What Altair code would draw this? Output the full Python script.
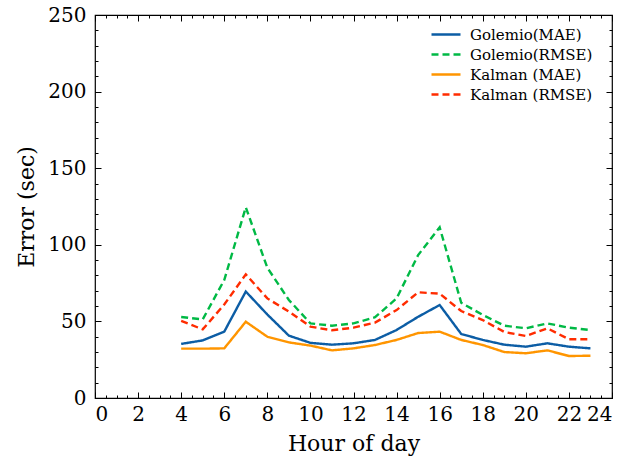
import altair as alt
import pandas as pd

hours = list(range(4, 24))
golemio_mae = [35.3, 37.6, 43.3, 69.5, 54.5, 40.7, 36.0, 34.8, 35.7, 37.9, 44.4, 53.0, 60.7, 41.8, 37.9, 34.8, 33.5, 35.7, 33.5, 32.4]
golemio_rmse = [52.9, 51.3, 77.0, 124.5, 85.0, 64.0, 48.7, 47.2, 48.7, 52.7, 65.0, 93.3, 111.4, 62.2, 54.2, 47.2, 45.5, 48.7, 45.9, 44.4]
kalman_mae = [32.2, 32.2, 32.4, 49.8, 40.0, 36.3, 34.2, 31.1, 32.4, 34.6, 37.9, 42.4, 43.3, 37.9, 34.6, 30.0, 29.2, 31.1, 27.4, 27.6]
kalman_rmse = [50.3, 44.8, 61.0, 80.7, 65.0, 56.4, 46.6, 44.2, 45.9, 49.2, 57.4, 69.0, 68.1, 56.8, 50.9, 43.1, 40.5, 45.5, 38.3, 38.3]

series_names = ["Golemio(MAE)", "Golemio(RMSE)", "Kalman (MAE)", "Kalman (RMSE)"]
series_colors = ["#0C5DA5", "#00B945", "#FF9500", "#FF2C00"]
series_dashes = [[1, 0], [7, 4], [1, 0], [7, 4]]

x_major = list(range(0, 25, 2))
x_minor = [i * 0.5 for i in range(0, 49)]
y_major = list(range(0, 251, 50))
y_minor = list(range(0, 251, 10))

rows = []
for name, vals in zip(series_names, [golemio_mae, golemio_rmse, kalman_mae, kalman_rmse]):
    for h, v in zip(hours, vals):
        rows.append({"hour": h, "value": v, "series": name})
df = pd.DataFrame(rows)

W, H = 517, 383
FONT = "DejaVu Serif"
xs = alt.Scale(domain=[0, 24], nice=False, zero=False)
ys = alt.Scale(domain=[0, 250], nice=False)


def make_legend():
    return alt.Legend(title=None, orient="none", legendX=335, legendY=12,
                      symbolType="stroke", symbolSize=841, symbolStrokeWidth=2.5,
                      labelFontSize=15, labelFont=FONT, labelColor="black",
                      rowPadding=4, clipHeight=15, labelOffset=8)


lines = alt.Chart(df).mark_line(strokeWidth=2.4).encode(
    x=alt.X("hour:Q", scale=xs, axis=alt.Axis(
        orient="bottom", values=x_major, ticks=False, domain=False, grid=False,
        labelPadding=6, title="Hour of day", titlePadding=9,
        labelFont=FONT, titleFont=FONT, labelColor="black", titleColor="black",
        titleFontWeight="normal", labelFontSize=20, titleFontSize=22)),
    y=alt.Y("value:Q", scale=ys, axis=alt.Axis(
        orient="left", values=y_major, ticks=False, domain=False, grid=False,
        labelPadding=9, title="Error (sec)", titlePadding=9,
        labelFont=FONT, titleFont=FONT, labelColor="black", titleColor="black",
        titleFontWeight="normal", labelFontSize=20, titleFontSize=22)),
    color=alt.Color("series:N", scale=alt.Scale(domain=series_names, range=series_colors),
                    legend=make_legend()),
    strokeDash=alt.StrokeDash("series:N", scale=alt.Scale(domain=series_names, range=series_dashes),
                              legend=make_legend()),
)


def xtick(orient, values, size):
    return alt.Chart(df).mark_point(opacity=0).encode(
        x=alt.X("hour:Q", scale=xs, axis=alt.Axis(
            orient=orient, offset=-H, values=values, tickSize=size, labels=False,
            domain=False, grid=False, title=None, tickColor="black", tickWidth=1)),
        y=alt.Y("value:Q", scale=ys, axis=None),
    )


def ytick(orient, values, size):
    return alt.Chart(df).mark_point(opacity=0).encode(
        x=alt.X("hour:Q", scale=xs, axis=None),
        y=alt.Y("value:Q", scale=ys, axis=alt.Axis(
            orient=orient, offset=-W, values=values, tickSize=size, labels=False,
            domain=False, grid=False, title=None, tickColor="black", tickWidth=1)),
    )


chart = alt.layer(
    lines,
    xtick("top", x_major, 6), xtick("top", x_minor, 3),
    xtick("bottom", x_major, 6), xtick("bottom", x_minor, 3),
    ytick("right", y_major, 6), ytick("right", y_minor, 3),
    ytick("left", y_major, 6), ytick("left", y_minor, 3),
).resolve_axis(x="independent", y="independent").properties(
    width=W, height=H,
    autosize=alt.AutoSizeParams(type="none"),
    padding={"left": 95, "top": 15, "right": 10, "bottom": 70},
).configure_view(stroke="black", strokeWidth=1.2).configure_axis(
    labelFont=FONT, titleFont=FONT, labelColor="black", titleColor="black",
    titleFontWeight="normal",
).configure_legend(labelColor="black", labelFont=FONT)

chart.save("out.html", embed_options={"renderer": "svg", "actions": False})
